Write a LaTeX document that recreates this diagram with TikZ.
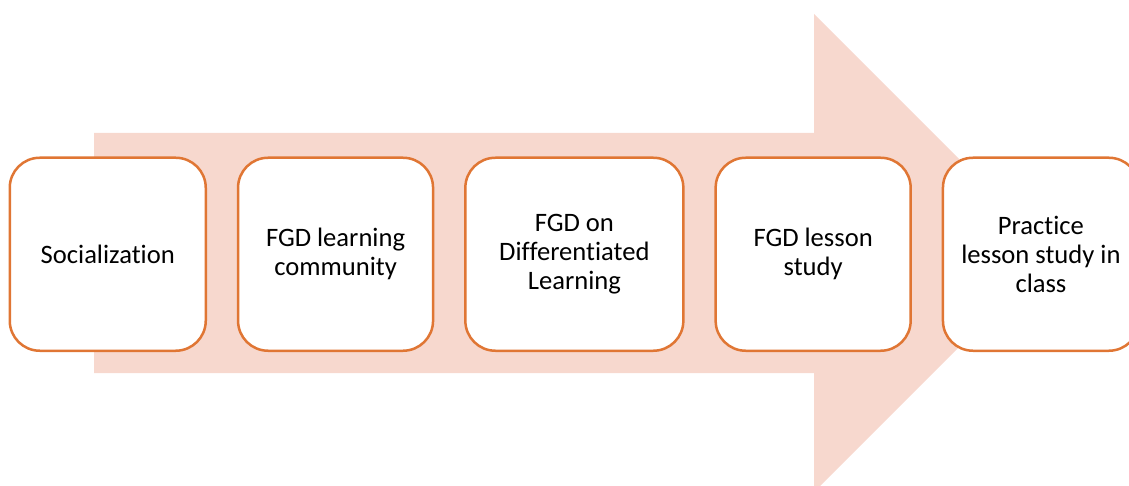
\documentclass[tikz,border=0pt]{standalone}
\usepackage{fontspec}
\setmainfont{Carlito}[Ligatures=NoCommon]
\usetikzlibrary{positioning}
\definecolor{arrowfill}{RGB}{247,216,206}
\definecolor{stageline}{RGB}{224,118,52}
\tikzset{stage/.style={draw=stageline, line width=1.25pt, fill=white, rounded corners=15pt,
    minimum height=96.5pt, align=center, inner sep=0pt,
    font=\fontsize{13.3}{14.4}\selectfont}}

\begin{document}
\begin{tikzpicture}[x=0.5pt, y=-0.5pt, node distance=14.9pt]
    \useasboundingbox (0,0) rectangle (1129,486);
    % big arrow behind the stages
    \fill[arrowfill] (94,133) -- (814,133) -- (814,14) -- (1053,253)
        -- (814,492) -- (814,373) -- (94,373) -- cycle;
    \node[stage, minimum width=98pt, anchor=north west] (soc) at (8.5,156.5) {Socialization};
    \node[stage, minimum width=97.5pt, right=of soc] (comm) {FGD learning\\community};
    \node[stage, minimum width=109pt, right=of comm] (diff) {FGD on\\Differentiated\\Learning};
    \node[stage, minimum width=97.5pt, right=of diff] (lesson) {FGD lesson\\study};
    \node[stage, minimum width=98pt, right=of lesson] (class) {Practice\\lesson study in\\class};
\end{tikzpicture}
\end{document}
